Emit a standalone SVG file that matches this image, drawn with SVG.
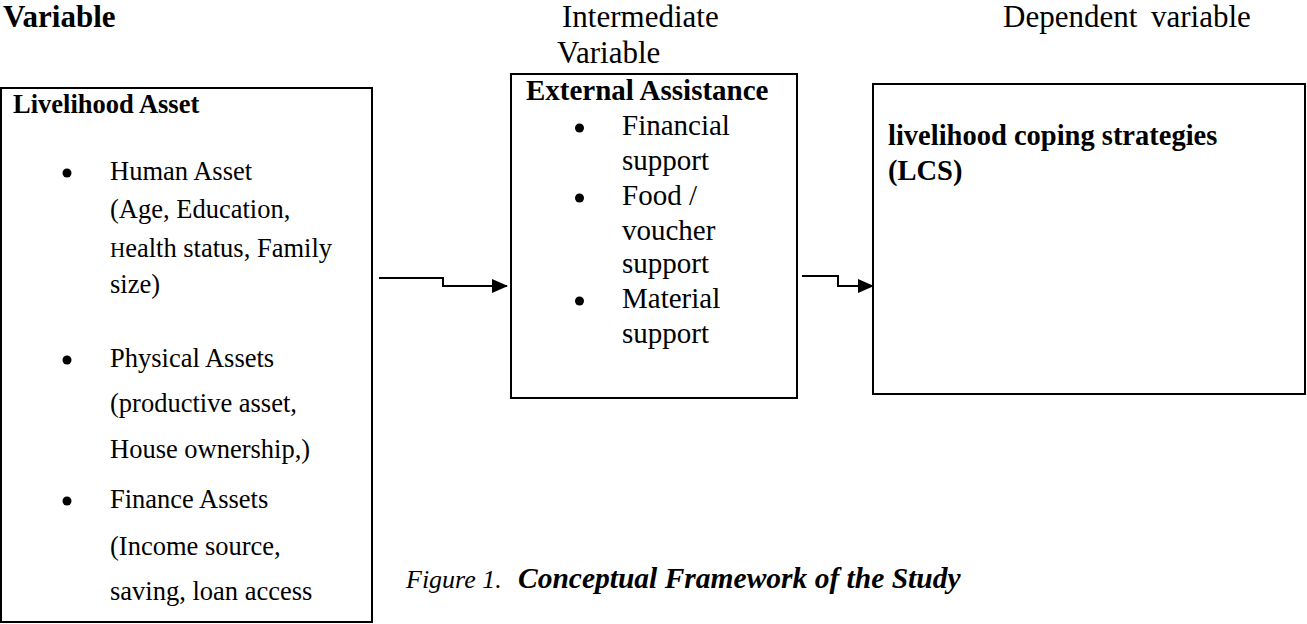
<svg xmlns="http://www.w3.org/2000/svg" width="1307" height="624" viewBox="0 0 1307 624">
<style>
.box{fill:#fff;stroke:#000;stroke-width:2}
.t{font-family:"Liberation Serif","Times New Roman",serif;fill:#000}
.hd{font-size:31px}
.b{font-weight:bold}
.l{font-size:26.5px}
.m{font-size:29px}
.r{font-size:28.5px}
.dot{fill:#000}
.conn{fill:none;stroke:#000;stroke-width:2}
</style>
<defs>
<marker id="ah" markerWidth="16" markerHeight="14" refX="15" refY="7" orient="auto" markerUnits="userSpaceOnUse">
<path d="M0,0 L16,7 L0,14 Z" fill="#000"/>
</marker>
</defs>
<g id="headers">
<text class="t hd b" x="3" y="27">Variable</text>
<text class="t hd" x="562" y="27">Intermediate</text>
<text class="t hd" x="557" y="63">Variable</text>
<text class="t hd" x="1003" y="27" word-spacing="6">Dependent variable</text>
</g>
<g id="livelihood-asset">
<rect class="box" x="1" y="88" width="371" height="534"/>
<text class="t l b" x="13" y="113">Livelihood Asset</text>
<circle class="dot" cx="67" cy="173" r="4.5"/>
<text class="t l" x="110" y="180">Human Asset</text>
<text class="t l" x="110" y="218">(Age, Education,</text>
<text class="t l" x="110" y="257"><tspan font-size="21px">H</tspan>ealth status, Family</text>
<text class="t l" x="110" y="293">size)</text>
<circle class="dot" cx="67" cy="360" r="4.5"/>
<text class="t l" x="110" y="367">Physical Assets</text>
<text class="t l" x="110" y="412">(productive asset,</text>
<text class="t l" x="110" y="458">House ownership,)</text>
<circle class="dot" cx="67" cy="501" r="4.5"/>
<text class="t l" x="110" y="508">Finance Assets</text>
<text class="t l" x="110" y="555">(Income source,</text>
<text class="t l" x="110" y="600">saving, loan access</text>
</g>
<g id="external-assistance">
<rect class="box" x="511" y="74" width="286" height="324"/>
<text class="t m b" x="526" y="100">External Assistance</text>
<circle class="dot" cx="579.5" cy="128" r="4.5"/>
<text class="t m" x="622" y="135">Financial</text>
<text class="t m" x="622" y="170">support</text>
<circle class="dot" cx="579.5" cy="198" r="4.5"/>
<text class="t m" x="622" y="205">Food /</text>
<text class="t m" x="622" y="240">voucher</text>
<text class="t m" x="622" y="273">support</text>
<circle class="dot" cx="579.5" cy="301" r="4.5"/>
<text class="t m" x="622" y="308">Material</text>
<text class="t m" x="622" y="343">support</text>
</g>
<g id="lcs">
<rect class="box" x="873" y="84" width="432" height="310"/>
<text class="t r b" x="888" y="145">livelihood coping strategies</text>
<text class="t r b" x="888" y="180">(LCS)</text>
</g>
<g id="connectors">
<path class="conn" d="M379,278 H443 V286 H507" marker-end="url(#ah)"/>
<path class="conn" d="M802,276 H838 V286 H873" marker-end="url(#ah)"/>
</g>
<g id="caption">
<text class="t" x="406" y="588" font-style="italic" font-size="26px">Figure 1.</text>
<text class="t" x="518" y="588" font-style="italic" font-weight="bold" font-size="29.5px">Conceptual Framework of the Study</text>
</g>
</svg>
